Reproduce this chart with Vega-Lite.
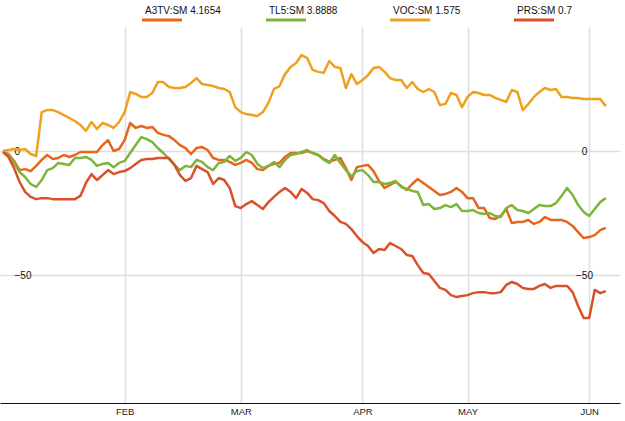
{
  "$schema": "https://vega.github.io/schema/vega-lite/v6.json",
  "width": 620,
  "height": 376,
  "autosize": "none",
  "padding": {"left": 0, "top": 27, "right": 5, "bottom": 18},
  "background": "white",
  "config": {
    "view": {"stroke": null},
    "font": "Liberation Sans",
    "legend": {
      "orient": "none", "legendY": -21, "padding": 0, "title": null,
      "symbolType": "M2,9H42", "symbolSize": 4, "symbolStrokeWidth": 3, "labelOffset": 0,
      "labelFont": "Liberation Sans", "labelFontSize": 10, "labelColor": "#111"
    }
  },
  "data": {"values": [
    {"i":0,"a":-0.4,"t":-0.4,"c":0,"p":-0.4},
    {"i":1,"a":-1.2,"t":-1.6,"c":0.4,"p":-2.4},
    {"i":2,"a":-4.0,"t":-4.8,"c":0.8,"p":-6.9},
    {"i":3,"a":-7.7,"t":-8.5,"c":0.4,"p":-12.5},
    {"i":4,"a":-7.3,"t":-10.5,"c":0.8,"p":-16.5},
    {"i":5,"a":-8.1,"t":-13.3,"c":-1.2,"p":-18.5},
    {"i":6,"a":-6.0,"t":-14.5,"c":-2.0,"p":-19.4},
    {"i":7,"a":-3.6,"t":-11.7,"c":15.7,"p":-19.0},
    {"i":8,"a":-1.6,"t":-7.7,"c":16.5,"p":-19.0},
    {"i":9,"a":-3.2,"t":-6.9,"c":16.5,"p":-19.4},
    {"i":10,"a":-2.8,"t":-4.8,"c":15.7,"p":-19.4},
    {"i":11,"a":-1.6,"t":-5.2,"c":14.5,"p":-19.4},
    {"i":12,"a":-2.4,"t":-5.6,"c":13.3,"p":-19.4},
    {"i":13,"a":-1.6,"t":-2.8,"c":12.1,"p":-19.4},
    {"i":14,"a":-0.4,"t":-2.8,"c":10.5,"p":-18.1},
    {"i":15,"a":-0.4,"t":-2.4,"c":8.1,"p":-12.9},
    {"i":16,"a":-0.4,"t":-3.6,"c":11.7,"p":-9.3},
    {"i":17,"a":-0.4,"t":-6.0,"c":8.9,"p":-11.7},
    {"i":18,"a":2.4,"t":-5.2,"c":11.3,"p":-9.7},
    {"i":19,"a":4.4,"t":-4.8,"c":10.5,"p":-7.7},
    {"i":20,"a":0,"t":-6.5,"c":9.3,"p":-9.3},
    {"i":21,"a":0.8,"t":-4.8,"c":11.7,"p":-8.5},
    {"i":22,"a":4.4,"t":-4.0,"c":15.7,"p":-8.1},
    {"i":23,"a":11.3,"t":-0.8,"c":23.8,"p":-6.9},
    {"i":24,"a":9.3,"t":2.4,"c":23.0,"p":-5.2},
    {"i":25,"a":10.1,"t":5.6,"c":21.8,"p":-3.6},
    {"i":26,"a":9.3,"t":4.8,"c":21.8,"p":-3.2},
    {"i":27,"a":9.7,"t":3.6,"c":23.4,"p":-3.2},
    {"i":28,"a":7.3,"t":1.2,"c":27.8,"p":-2.8},
    {"i":29,"a":6.5,"t":-0.8,"c":27.8,"p":-2.8},
    {"i":30,"a":6.0,"t":-3.2,"c":25.8,"p":-2.8},
    {"i":31,"a":4.4,"t":-5.6,"c":25.4,"p":-5.6},
    {"i":32,"a":2.4,"t":-7.7,"c":25.4,"p":-9.7},
    {"i":33,"a":1.2,"t":-6.0,"c":25.8,"p":-12.1},
    {"i":34,"a":-1.2,"t":-6.5,"c":27.4,"p":-10.9},
    {"i":35,"a":1.2,"t":-3.6,"c":29.4,"p":-6.0},
    {"i":36,"a":1.6,"t":-4.4,"c":27.0,"p":-7.3},
    {"i":37,"a":0.4,"t":-6.5,"c":26.6,"p":-8.5},
    {"i":38,"a":-2.8,"t":-7.7,"c":26.2,"p":-13.3},
    {"i":39,"a":-3.6,"t":-4.8,"c":25.4,"p":-10.9},
    {"i":40,"a":-3.6,"t":-4.4,"c":25.0,"p":-11.7},
    {"i":41,"a":-4.4,"t":-2.0,"c":23.8,"p":-14.9},
    {"i":42,"a":-5.6,"t":-4.0,"c":17.7,"p":-22.2},
    {"i":43,"a":-4.8,"t":-2.8,"c":15.7,"p":-23.0},
    {"i":44,"a":-3.6,"t":-0.4,"c":14.9,"p":-21.4},
    {"i":45,"a":-4.8,"t":-1.6,"c":14.5,"p":-20.2},
    {"i":46,"a":-7.3,"t":-5.2,"c":14.1,"p":-21.8},
    {"i":47,"a":-7.7,"t":-6.9,"c":15.7,"p":-23.4},
    {"i":48,"a":-6.0,"t":-6.0,"c":19.4,"p":-20.6},
    {"i":49,"a":-5.2,"t":-4.4,"c":25.0,"p":-18.5},
    {"i":50,"a":-4.8,"t":-6.5,"c":26.2,"p":-16.5},
    {"i":51,"a":-2.4,"t":-3.6,"c":31.0,"p":-14.9},
    {"i":52,"a":-0.8,"t":-1.6,"c":33.9,"p":-16.5},
    {"i":53,"a":-0.8,"t":-1.2,"c":35.5,"p":-19.0},
    {"i":54,"a":-0.8,"t":-0.4,"c":38.7,"p":-15.3},
    {"i":55,"a":0,"t":0.4,"c":37.5,"p":-16.9},
    {"i":56,"a":-0.8,"t":-0.8,"c":32.7,"p":-19.4},
    {"i":57,"a":-1.6,"t":-1.6,"c":31.9,"p":-19.8},
    {"i":58,"a":-3.2,"t":-3.6,"c":31.5,"p":-21.0},
    {"i":59,"a":-4.4,"t":-4.8,"c":36.3,"p":-24.2},
    {"i":60,"a":-3.6,"t":-1.6,"c":33.9,"p":-26.2},
    {"i":61,"a":-2.8,"t":-4.8,"c":33.5,"p":-28.6},
    {"i":62,"a":-6.9,"t":-7.7,"c":25.4,"p":-29.4},
    {"i":63,"a":-11.7,"t":-10.1,"c":31.0,"p":-31.5},
    {"i":64,"a":-6.5,"t":-8.1,"c":27.0,"p":-34.3},
    {"i":65,"a":-6.0,"t":-7.7,"c":28.6,"p":-36.7},
    {"i":66,"a":-5.6,"t":-9.7,"c":30.6,"p":-38.3},
    {"i":67,"a":-8.1,"t":-12.5,"c":33.5,"p":-41.1},
    {"i":68,"a":-12.1,"t":-12.5,"c":33.9,"p":-39.5},
    {"i":69,"a":-14.9,"t":-13.3,"c":31.9,"p":-39.9},
    {"i":70,"a":-13.7,"t":-12.9,"c":29.4,"p":-37.1},
    {"i":71,"a":-12.5,"t":-12.1,"c":28.6,"p":-38.3},
    {"i":72,"a":-14.1,"t":-14.5,"c":28.6,"p":-39.5},
    {"i":73,"a":-15.7,"t":-15.3,"c":25.4,"p":-41.9},
    {"i":74,"a":-13.3,"t":-16.1,"c":27.8,"p":-42.3},
    {"i":75,"a":-11.3,"t":-16.5,"c":25.0,"p":-46.0},
    {"i":76,"a":-12.9,"t":-21.8,"c":23.8,"p":-49.2},
    {"i":77,"a":-14.5,"t":-21.4,"c":25.0,"p":-49.6},
    {"i":78,"a":-16.1,"t":-23.4,"c":23.8,"p":-52.4},
    {"i":79,"a":-17.7,"t":-23.0,"c":18.5,"p":-55.2},
    {"i":80,"a":-17.3,"t":-21.8,"c":19.0,"p":-56.0},
    {"i":81,"a":-16.5,"t":-22.6,"c":23.4,"p":-58.1},
    {"i":82,"a":-14.9,"t":-21.4,"c":22.6,"p":-58.9},
    {"i":83,"a":-16.5,"t":-24.2,"c":17.7,"p":-58.5},
    {"i":84,"a":-19.0,"t":-24.2,"c":21.8,"p":-58.1},
    {"i":85,"a":-19.0,"t":-23.8,"c":23.8,"p":-57.3},
    {"i":86,"a":-23.0,"t":-25.0,"c":23.4,"p":-56.9},
    {"i":87,"a":-23.0,"t":-25.4,"c":22.6,"p":-56.9},
    {"i":88,"a":-27.0,"t":-25.0,"c":22.6,"p":-57.3},
    {"i":89,"a":-27.4,"t":-26.2,"c":21.4,"p":-57.3},
    {"i":90,"a":-26.2,"t":-26.6,"c":20.6,"p":-56.9},
    {"i":91,"a":-23.4,"t":-23.0,"c":19.8,"p":-54.0},
    {"i":92,"a":-29.0,"t":-21.8,"c":24.6,"p":-52.8},
    {"i":93,"a":-28.6,"t":-23.8,"c":23.8,"p":-53.6},
    {"i":94,"a":-28.6,"t":-24.2,"c":16.5,"p":-55.2},
    {"i":95,"a":-27.8,"t":-25.0,"c":19.0,"p":-55.6},
    {"i":96,"a":-29.4,"t":-23.4,"c":21.8,"p":-55.6},
    {"i":97,"a":-28.6,"t":-21.8,"c":23.8,"p":-54.4},
    {"i":98,"a":-26.6,"t":-22.2,"c":25.4,"p":-53.6},
    {"i":99,"a":-27.8,"t":-22.2,"c":24.6,"p":-55.2},
    {"i":100,"a":-27.8,"t":-21.0,"c":25.0,"p":-54.4},
    {"i":101,"a":-27.8,"t":-18.1,"c":21.8,"p":-54.4},
    {"i":102,"a":-28.6,"t":-14.9,"c":21.8,"p":-54.4},
    {"i":103,"a":-30.2,"t":-17.7,"c":21.4,"p":-56.9},
    {"i":104,"a":-32.7,"t":-21.8,"c":21.4,"p":-62.5},
    {"i":105,"a":-35.1,"t":-24.6,"c":21.0,"p":-67.3},
    {"i":106,"a":-34.7,"t":-26.2,"c":21.0,"p":-67.3},
    {"i":107,"a":-33.9,"t":-23.4,"c":21.0,"p":-56.0},
    {"i":108,"a":-31.9,"t":-20.6,"c":21.0,"p":-57.3},
    {"i":109,"a":-31.0,"t":-19.0,"c":18.1,"p":-56.5}
  ]},
  "transform": [{"fold": ["a", "t", "c", "p"], "as": ["k", "v"]}],
  "resolve": {
    "axis": {"y": "independent"},
    "scale": {"color": "independent"},
    "legend": {"color": "independent"}
  },
  "layer": [
    {
      "transform": [{"filter": "datum.k == 'a'"}],
      "mark": {"type": "line", "strokeWidth": 2.5, "strokeJoin": "round"},
      "encoding": {
        "x": {
          "field": "i", "type": "quantitative",
          "scale": {"domain": [-0.54, 111.57], "nice": false, "zero": false},
          "axis": {
            "title": null, "values": [22, 43, 65, 84, 106],
            "labelExpr": "datum.value == 22 ? 'FEB' : datum.value == 43 ? 'MAR' : datum.value == 65 ? 'APR' : datum.value == 84 ? 'MAY' : 'JUN'",
            "grid": true, "gridColor": "#dedede", "gridWidth": 1.5,
            "ticks": false, "tickSize": 0, "domain": true, "domainColor": "#111", "domainWidth": 1,
            "labelFont": "Liberation Sans", "labelFontSize": 9.5, "labelColor": "#222", "labelPadding": 3
          }
        },
        "y": {
          "field": "v", "type": "quantitative",
          "scale": {"domain": [-101.6, 50], "nice": false, "zero": false},
          "axis": {
            "orient": "left", "title": null, "values": [0, -50],
            "grid": true, "gridColor": "#dedede", "gridWidth": 1.5,
            "ticks": false, "tickSize": 0, "domain": false,
            "labelAlign": "left", "labelPadding": -14, "labelBaseline": "middle",
            "labelFont": "Liberation Sans", "labelFontSize": 10, "labelColor": "#111"
          }
        },
        "color": {
          "field": "k", "type": "nominal",
          "scale": {"domain": ["a"], "range": ["#e8661c"]},
          "legend": {"legendX": 135, "labelExpr": "'A3TV:SM 4.1654'"}
        }
      }
    },
    {
      "transform": [{"filter": "datum.k == 't'"}],
      "mark": {"type": "line", "strokeWidth": 2.5, "strokeJoin": "round"},
      "encoding": {
        "x": {"field": "i", "type": "quantitative"},
        "y": {"field": "v", "type": "quantitative", "axis": null},
        "color": {
          "field": "k", "type": "nominal",
          "scale": {"domain": ["t"], "range": ["#7db53b"]},
          "legend": {"legendX": 259, "labelExpr": "'TL5:SM 3.8888'"}
        }
      }
    },
    {
      "transform": [{"filter": "datum.k == 'c'"}],
      "mark": {"type": "line", "strokeWidth": 2.5, "strokeJoin": "round"},
      "encoding": {
        "x": {"field": "i", "type": "quantitative"},
        "y": {"field": "v", "type": "quantitative", "axis": null},
        "color": {
          "field": "k", "type": "nominal",
          "scale": {"domain": ["c"], "range": ["#efa11e"]},
          "legend": {"legendX": 383, "labelExpr": "'VOC:SM 1.575'"}
        }
      }
    },
    {
      "transform": [{"filter": "datum.k == 'p'"}],
      "mark": {"type": "line", "strokeWidth": 2.5, "strokeJoin": "round"},
      "encoding": {
        "x": {"field": "i", "type": "quantitative"},
        "y": {"field": "v", "type": "quantitative", "axis": null},
        "color": {
          "field": "k", "type": "nominal",
          "scale": {"domain": ["p"], "range": ["#d9512b"]},
          "legend": {"legendX": 507, "labelExpr": "'PRS:SM 0.7'"}
        }
      }
    },
    {
      "mark": {"type": "line", "strokeOpacity": 0},
      "encoding": {
        "x": {"field": "i", "type": "quantitative"},
        "y": {
          "field": "v", "type": "quantitative",
          "axis": {
            "orient": "right", "title": null, "values": [0, -50], "grid": false,
            "ticks": false, "tickSize": 0, "domain": false,
            "labelAlign": "center", "labelPadding": -36, "labelBaseline": "middle",
            "labelFont": "Liberation Sans", "labelFontSize": 10, "labelColor": "#111"
          }
        },
        "detail": {"field": "k"}
      }
    }
  ]
}
